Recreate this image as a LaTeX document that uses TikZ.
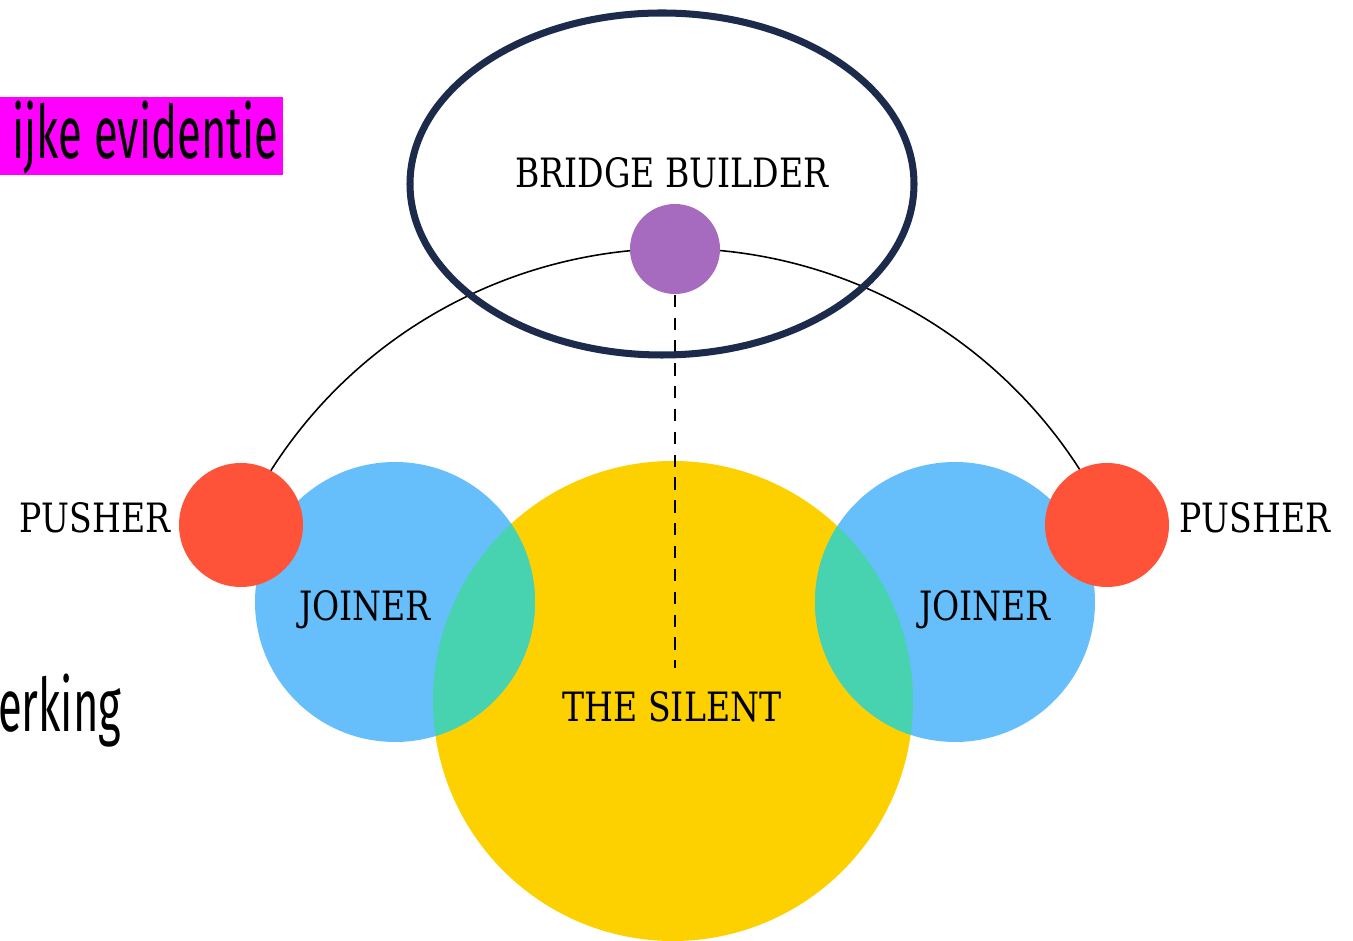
\documentclass[tikz,border=0pt]{standalone}
\usepackage{fontspec}
\setmainfont{DejaVu Serif}[FakeStretch=0.82]
\newfontfamily\notefont{Fira Sans}[FakeStretch=0.59]
\usetikzlibrary{arrows}
\definecolor{silentyellow}{HTML}{FDD000}
\definecolor{joinerblue}{HTML}{66BFFA}
\definecolor{overlapgreen}{HTML}{47D3B0}
\definecolor{pusherred}{HTML}{FF5339}
\definecolor{bridgepurple}{HTML}{A66BBE}
\definecolor{ringnavy}{HTML}{1C2B4B}
\definecolor{markmagenta}{HTML}{FF00FF}
\tikzset{>=stealth,font=\fontsize{11.5}{13}\selectfont,
  dot/.style={circle,inner sep=0pt,draw=none},
  lbl/.style={inner sep=0pt,text=black},
  note/.style={inner sep=0pt,text=black,anchor=east,font=\notefont\fontsize{21}{24}\selectfont}}

\begin{document}
\begin{tikzpicture}
\useasboundingbox (0,0) rectangle (13.53,9.41);
% circles
\node[dot,fill=silentyellow,minimum size=4.8cm] (S) at (6.73,2.40) {};
\node[dot,fill=joinerblue,minimum size=2.8cm] (JL) at (3.95,3.39) {};
\node[dot,fill=joinerblue,minimum size=2.8cm] (JR) at (9.55,3.39) {};
\begin{scope}
\clip (S.center) circle (2.40);
\fill[overlapgreen] (JL.center) circle (1.40);
\fill[overlapgreen] (JR.center) circle (1.40);
\end{scope}
\coordinate (D) at (6.75,2.73);
\node[dot,minimum size=1.24cm] (PL) at (2.41,4.16) {};
\node[dot,minimum size=1.24cm] (PR) at (11.07,4.16) {};
\node[dot,minimum size=0.9cm] (B) at (6.75,6.92) {};
\draw[line width=0.45pt] (PL.center) arc[start angle=154.9,end angle=25.1,radius=4.8];
\fill[pusherred] (PL) circle (0.62);
\fill[pusherred] (PR) circle (0.62);
\fill[bridgepurple] (B) circle (0.45);
\draw[line width=0.7pt,dash pattern=on 3.5pt off 3pt] (B.south) -- (D);
% highlight
\draw[ringnavy,line width=2pt] (6.62,7.57) ellipse (2.52 and 1.71);
% labels
\node[lbl] (tB) at (6.72,7.68) {BRIDGE BUILDER};
\node[lbl] (tPL) at (0.95,4.23) {PUSHER};
\node[lbl] (tPR) at (12.55,4.23) {PUSHER};
\node[lbl] (tJL) at (3.65,3.31) {JOINER};
\node[lbl] (tJR) at (9.85,3.31) {JOINER};
\node[lbl] (tS) at (6.72,2.34) {THE SILENT};
% side notes
\fill[markmagenta] (0,7.66) rectangle (2.83,8.44);
\node[note] (nE) at (2.79,8.03) {ijke evidentie};
\node[note] (nW) at (1.22,2.30) {erking};
\end{tikzpicture}
\end{document}
